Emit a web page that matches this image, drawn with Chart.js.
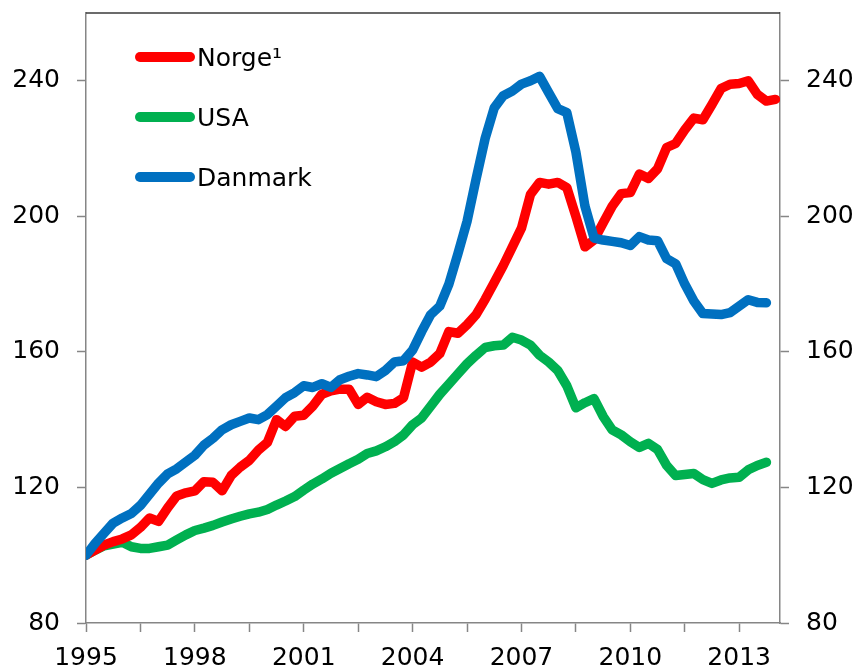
<!DOCTYPE html>
<html>
<head>
<meta charset="utf-8">
<script src="https://cdn.jsdelivr.net/npm/chart.js@4/dist/chart.umd.min.js"></script>
<style>
  body { margin: 0; background: #fff; }
  canvas { display: block; }
</style>
</head>
<body>
<canvas id="chart" width="860" height="671"></canvas>
<script>
// quarterly index, 1995 Q1 = 100
const startYear = 1995;
const quarters = Array.from({ length: 77 }, (_, i) => startYear + i / 4);

const norge = [100, 101.5, 103, 104, 104.8, 106, 108.2, 111, 110, 114,
  117.5, 118.4, 119, 121.7, 121.5, 119, 123.5, 126, 128, 131,
  133.3, 140, 138, 141, 141.3, 144, 147.5, 148.5, 149, 149,
  144.5, 146.6, 145.3, 144.5, 144.8, 146.5, 157, 155.5, 157, 159.5,
  166, 165.5, 168, 171, 175.5, 180.5, 185.5, 191, 196.5, 206.5,
  210, 209.5, 210, 208.5, 200, 191, 193, 198, 203, 206.7,
  207, 212.5, 211.2, 214, 220.3, 221.5, 225.5, 229, 228.5, 233,
  237.7, 239, 239.2, 240, 236, 234, 234.5];

const usa = [100, 101.5, 102.8, 103.3, 103.8, 102.5, 102, 102, 102.5, 103,
  104.5, 106, 107.3, 108, 108.8, 109.8, 110.7, 111.5, 112.2, 112.7,
  113.5, 114.8, 116, 117.3, 119.2, 121, 122.5, 124.2, 125.6, 127,
  128.3, 130, 130.8, 132, 133.5, 135.5, 138.5, 140.5, 144, 147.5,
  150.5, 153.5, 156.5, 159, 161.3, 161.8, 162, 164.3, 163.5, 162,
  159, 157, 154.5, 150, 143.5, 145, 146.2, 141, 137, 135.5,
  133.5, 131.8, 133, 131.2, 126.5, 123.5, 123.8, 124.1, 122.3, 121.2,
  122.2, 122.8, 123, 125.2, 126.5, 127.4];

const danmark = [100, 103.5, 106.5, 109.5, 111, 112.3, 114.7, 118, 121.3, 124,
  125.5, 127.5, 129.5, 132.5, 134.5, 137, 138.5, 139.5, 140.5, 140,
  141.5, 144, 146.5, 148, 150, 149.5, 150.6, 149.5, 151.8, 152.8,
  153.6, 153.2, 152.7, 154.5, 157, 157.4, 160.5, 166, 171, 173.5,
  180, 189, 198.5, 211, 223, 232, 235.6, 237, 239, 240,
  241.3, 236.5, 231.8, 230.6, 219, 203, 193.6, 193, 192.6, 192.2,
  191.4, 194, 193, 192.8, 187.5, 186, 180, 175, 171.3, 171.2,
  171, 171.6, 173.5, 175.4, 174.6, 174.5];

const yTicks = [80, 120, 160, 200, 240];
const xTicks = [1995, 1996.5, 1998, 1999.5, 2001, 2002.5, 2004, 2005.5, 2007, 2008.5, 2010, 2011.5, 2013];
const xLabels = [1995, 1998, 2001, 2004, 2007, 2010, 2013];

const font = { family: "'DejaVu Sans', Verdana, sans-serif", size: 25 };
const axisGray = "#868686";

function toPoints(values) {
  return values.map((v, i) => ({ x: quarters[i], y: v }));
}

function lineSet(label, values, color, order) {
  return {
    label: label,
    data: toPoints(values),
    borderColor: color,
    backgroundColor: color,
    borderWidth: 9.5,
    borderCapStyle: "round",
    borderJoinStyle: "round",
    pointRadius: 0,
    tension: 0,
    order: order,
  };
}

// legend inside the plot, top left
const innerLegend = {
  id: "innerLegend",
  afterDraw(chart) {
    const c = chart.ctx;
    const area = chart.chartArea;
    c.save();
    chart.data.datasets.forEach((ds, i) => {
      const y = area.top + 44 + i * 60;
      c.strokeStyle = ds.borderColor;
      c.lineWidth = 10;
      c.lineCap = "round";
      c.beginPath();
      c.moveTo(area.left + 54, y);
      c.lineTo(area.left + 104, y);
      c.stroke();
      c.fillStyle = "#000";
      c.font = font.size + "px " + font.family;
      c.textBaseline = "alphabetic";
      c.fillText(ds.label, area.left + 111, y + 9);
    });
    c.restore();
  },
};

const topBorder = {
  id: "topBorder",
  afterDraw(chart) {
    const c = chart.ctx;
    const a = chart.chartArea;
    c.save();
    c.strokeStyle = "#3a3a3a";
    c.lineWidth = 1.5;
    c.beginPath();
    c.moveTo(a.left, a.top);
    c.lineTo(a.right, a.top);
    c.stroke();
    c.restore();
  },
};

function yAxis(position, width) {
  return {
    type: "linear",
    position: position,
    min: 80,
    max: 260,
    afterBuildTicks: (scale) => { scale.ticks = yTicks.map((v) => ({ value: v })); },
    afterFit: (scale) => {
      scale.width = width;
      scale.paddingTop = 0;
      scale.paddingBottom = 0;
    },
    border: { color: axisGray, width: 1.5 },
    grid: { drawOnChartArea: false, drawTicks: true, tickLength: 9, color: axisGray, tickWidth: 1.5 },
    ticks: { font: font, color: "#000", padding: 17 },
  };
}

new Chart(document.getElementById("chart"), {
  type: "line",
  data: {
    datasets: [
      lineSet("Norge\u00b9", norge, "#FF0000", 1),
      lineSet("USA", usa, "#00B050", 2),
      lineSet("Danmark", danmark, "#0070C0", 0),
    ],
  },
  options: {
    responsive: false,
    animation: false,
    layout: { padding: { top: 13, left: 0, right: 0, bottom: 0 } },
    plugins: { legend: { display: false }, tooltip: { enabled: false } },
    scales: {
      x: {
        type: "linear",
        min: 1995,
        max: 2014.125,
        afterBuildTicks: (scale) => { scale.ticks = xTicks.map((v) => ({ value: v })); },
        afterFit: (scale) => {
          scale.height = 48;
          scale.paddingLeft = 0;
          scale.paddingRight = 0;
        },
        border: { color: axisGray, width: 1.5 },
        grid: { drawOnChartArea: false, drawTicks: true, tickLength: 9, color: axisGray, tickWidth: 1.5 },
        ticks: {
          font: font,
          color: "#000",
          padding: 11,
          autoSkip: false,
          maxRotation: 0,
          callback: (v) => (xLabels.includes(v) ? String(v) : ""),
        },
      },
      y: yAxis("left", 86),
      y2: yAxis("right", 80),
    },
  },
  plugins: [innerLegend, topBorder],
});
</script>
</body>
</html>
